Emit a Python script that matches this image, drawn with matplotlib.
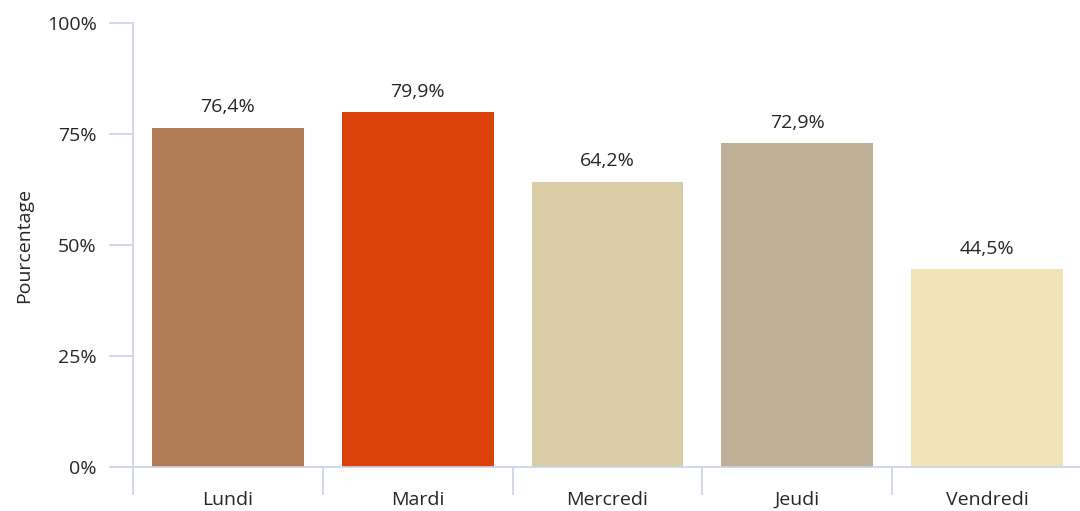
"""Taux par jour de la semaine."""

import matplotlib.pyplot as plt
from matplotlib.ticker import FixedLocator

jours = ["Lundi", "Mardi", "Mercredi", "Jeudi", "Vendredi"]
valeurs = [76.4, 79.9, 64.2, 72.9, 44.5]
couleurs = ["#B07A55", "#DC410A", "#DBCCA8", "#BEAE96", "#F0E4B8"]
yticks = [0, 25, 50, 75, 100]

plt.rcParams["font.family"] = ["Open Sans", "DejaVu Sans"]
axis_col = "#C9D2EA"
text_col = "#262626"
fs = 14

fig = plt.figure(figsize=(10.8, 5.11), dpi=100)
ax = fig.add_axes([0.123, 0.086, 0.879, 0.869])

x = range(len(jours))
ax.bar(x, valeurs, width=0.8, color=couleurs)

for xi, v in zip(x, valeurs):
    ax.text(xi, v + 2.6, f"{v:.1f}%".replace(".", ","), ha="center", va="bottom",
            fontsize=fs, color=text_col)

ax.set_xlim(-0.5, len(jours) - 0.5)
ax.set_ylim(0, 100)
ax.set_yticks(yticks)
ax.set_yticklabels([f"{t}%" for t in yticks])
ax.set_xticks(list(x))
ax.set_xticklabels(jours)
ax.xaxis.set_minor_locator(FixedLocator([i - 0.5 for i in range(len(jours) + 1)]))

ax.tick_params(axis="x", which="major", length=0, pad=17, labelsize=fs, labelcolor=text_col)
ax.tick_params(axis="x", which="minor", length=20, width=1.2, color=axis_col)
ax.tick_params(axis="y", length=17, width=1.2, color=axis_col, pad=9,
               labelsize=fs, labelcolor=text_col)

for side in ["top", "right"]:
    ax.spines[side].set_visible(False)
for side in ["left", "bottom"]:
    ax.spines[side].set_color(axis_col)
    ax.spines[side].set_linewidth(1.2)

ax.set_ylabel("Pourcentage", fontsize=fs, color=text_col, labelpad=10)

fig.savefig("out.png", dpi=100)
